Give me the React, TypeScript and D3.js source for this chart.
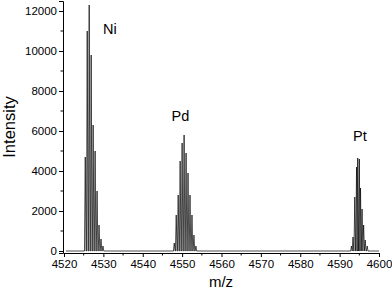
import React, { useEffect, useRef } from "react";
import * as d3 from "d3";

// isotope peaks (m/z, intensity)
const niMz = [4525.4, 4525.9, 4526.4, 4526.9, 4527.4, 4527.9, 4528.4, 4528.9, 4529.4, 4529.9];
const niInt = [4700, 11000, 12300, 9800, 6300, 5000, 3000, 1300, 600, 250];

const pdMz = [4548.0, 4548.5, 4549.0, 4549.5, 4550.0, 4550.5, 4551.0, 4551.5, 4552.0, 4552.5, 4553.0, 4553.5];
const pdInt = [400, 1800, 2800, 4500, 5400, 5800, 4900, 3900, 2800, 1800, 800, 250];

const ptMz = [4593.0, 4593.4, 4593.85, 4594.3, 4594.6, 4595.0, 4595.3, 4595.7, 4596.1, 4596.5, 4597.0];
const ptInt = [250, 700, 2700, 4200, 4650, 4600, 3150, 2100, 1300, 550, 250];

const labels = ["Ni", "Pd", "Pt"];
const labelMz = [4529.9, 4547.3, 4593.4];
const labelInt = [10850, 6500, 5500];

const xTicks = [4520, 4530, 4540, 4550, 4560, 4570, 4580, 4590, 4600];
const yTicks = [0, 2000, 4000, 6000, 8000, 10000, 12000];

export default function App() {
  const svgRef = useRef<SVGSVGElement>(null);

  useEffect(() => {
    const svg = d3.select(svgRef.current);
    svg.selectAll("*").remove();

    const x = d3.scaleLinear().domain([4520, 4600]).range([64, 379]);
    const y = d3.scaleLinear().domain([-100, 12500]).range([253, 1]);
    const font = "Liberation Sans, Arial, sans-serif";

    // build the profile: each peak drawn as a narrow spike
    const pts: [number, number][] = [[4520.5, 0]];
    const clusters = [
      [niMz, niInt],
      [pdMz, pdInt],
      [ptMz, ptInt],
    ];
    clusters.forEach(([mz, it]) => {
      mz.forEach((m, i) => {
        pts.push([m - 0.2, 0]);
        pts.push([m, it[i]]);
        pts.push([m + 0.2, 0]);
      });
    });
    pts.push([4600, 0]);

    const line = d3
      .line<[number, number]>()
      .x((d) => x(d[0]))
      .y((d) => y(d[1]));

    svg
      .append("path")
      .attr("d", line(pts))
      .attr("fill", "none")
      .attr("stroke", "#000")
      .attr("stroke-width", 0.7);

    // axes
    const xAxis = svg.append("g").attr("transform", `translate(0,${y(-100)})`);
    xAxis.call(
      d3.axisBottom(x).tickValues(xTicks).tickFormat(d3.format("d")).tickSize(4).tickPadding(3)
    );
    xAxis
      .selectAll(".minor")
      .data(d3.range(4525, 4600, 10))
      .join("line")
      .attr("x1", (d) => x(d))
      .attr("x2", (d) => x(d))
      .attr("y1", 0)
      .attr("y2", 2.5)
      .attr("stroke", "#000");

    const yAxis = svg.append("g").attr("transform", `translate(63,0)`);
    yAxis.call(
      d3.axisLeft(y).tickValues(yTicks).tickFormat(d3.format("d")).tickSize(4).tickPadding(2)
    );
    yAxis
      .selectAll(".minor")
      .data(d3.range(1000, 12000, 2000))
      .join("line")
      .attr("x1", 0)
      .attr("x2", -2.5)
      .attr("y1", (d) => y(d))
      .attr("y2", (d) => y(d))
      .attr("stroke", "#000");

    svg.selectAll(".domain").attr("stroke", "#000");
    svg.selectAll(".tick line").attr("stroke", "#000");
    svg
      .selectAll(".tick text")
      .attr("fill", "#000")
      .style("font-family", font)
      .style("font-size", "11.5px");

    // axis titles
    svg
      .append("text")
      .attr("x", 221)
      .attr("y", 287)
      .attr("text-anchor", "middle")
      .style("font-family", font)
      .style("font-size", "15px")
      .text("m/z");

    svg
      .append("text")
      .attr("transform", "translate(15,127) rotate(-90)")
      .attr("text-anchor", "middle")
      .style("font-family", font)
      .style("font-size", "16.5px")
      .text("Intensity");

    // element labels
    svg
      .selectAll(".lbl")
      .data(labels)
      .join("text")
      .attr("x", (d, i) => x(labelMz[i]))
      .attr("y", (d, i) => y(labelInt[i]))
      .style("font-family", font)
      .style("font-size", "14.5px")
      .text((d) => d);
  }, []);

  return (
    <svg
      ref={svgRef}
      width={392}
      height={292}
      style={{ position: "absolute", left: 0, top: 0, background: "#fff" }}
    ></svg>
  );
}
